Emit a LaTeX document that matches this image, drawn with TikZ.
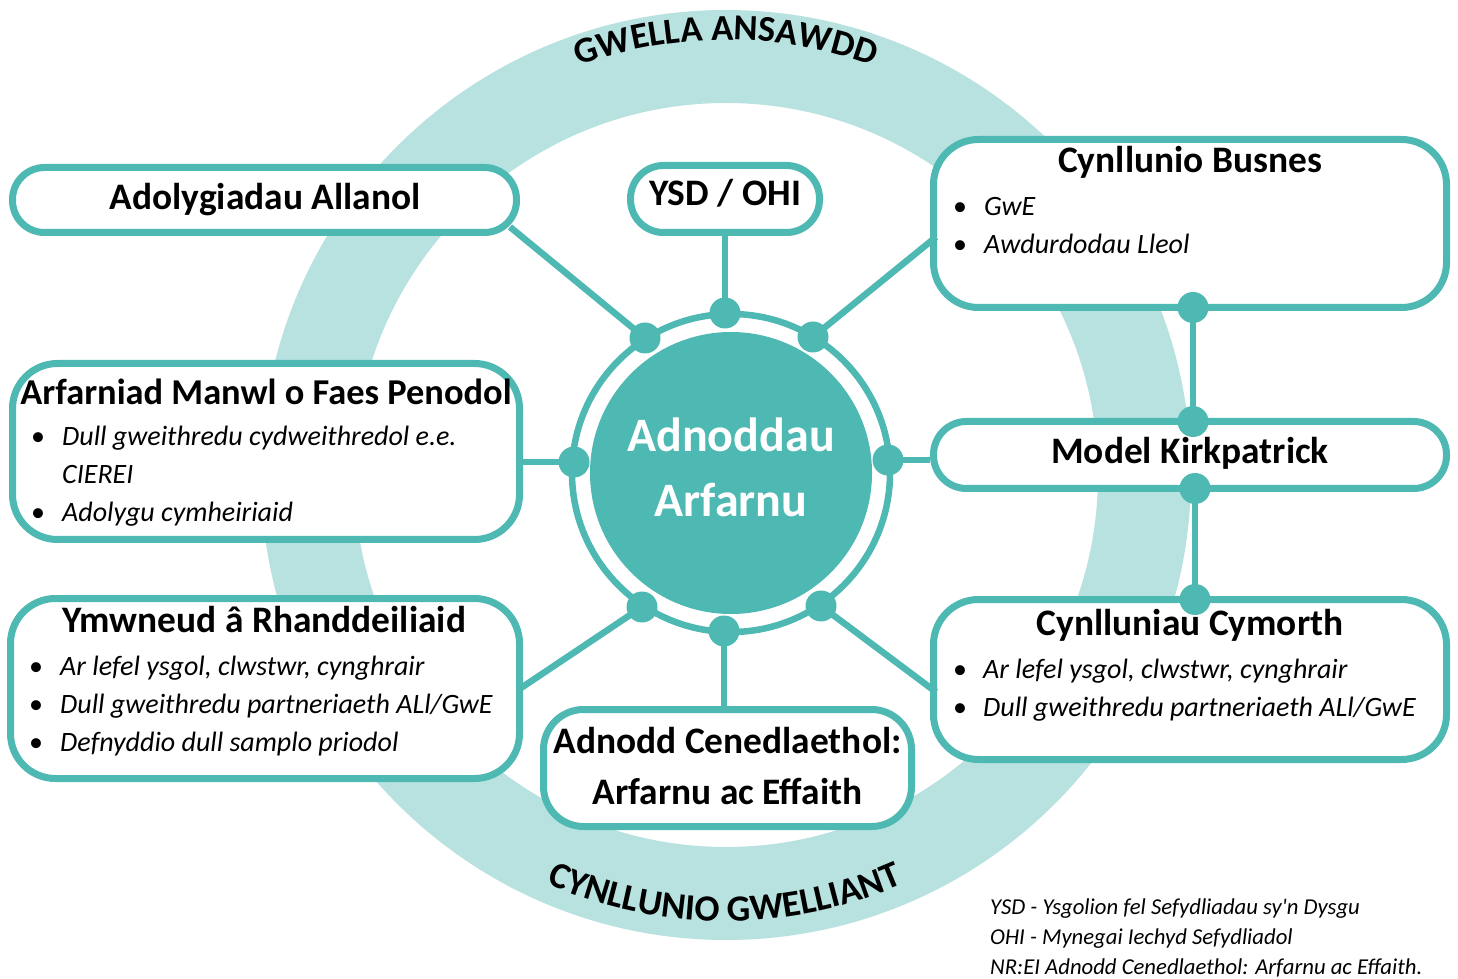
\documentclass[tikz,border=0pt]{standalone}
\usepackage{fontspec}
\setmainfont{Carlito}[Ligatures=TeXOff]
\usetikzlibrary{decorations.text}
\definecolor{tealmain}{RGB}{78,184,179}
\definecolor{tealring}{RGB}{183,226,224}
\begin{document}
\begin{tikzpicture}[x=1pt,y=1pt,
  box/.style={draw=tealmain, line width=7pt, fill=white, rounded corners=#1, inner sep=0pt},
  box/.default=45pt,
  conn/.style={draw=tealmain, line width=6.5pt},
  dotn/.style={circle, fill=tealmain, minimum size=31pt, inner sep=0pt},
  title/.style={font=\fontsize{37.4}{40}\selectfont\bfseries, anchor=base, inner sep=0pt},
  item/.style={font=\fontsize{28}{32}\selectfont\itshape, anchor=base west, inner sep=0pt},
  bul/.style={font=\fontsize{28}{32}\selectfont, anchor=base, inner sep=0pt},
  note/.style={font=\fontsize{22.7}{26}\selectfont\itshape, anchor=base west, inner sep=0pt},
  coretext/.style={font=\fontsize{48}{50}\selectfont\bfseries, text=white, anchor=base, inner sep=0pt},
]
\useasboundingbox (0,0) rectangle (1458,978);
\fill[white] (0,0) rectangle (1458,978);
% big light ring
\draw[tealring, line width=93pt] (726,503) circle[radius=418.5];
% curved texts
\path[decorate, decoration={text along path, text align=center,
  text={|\fontsize{36.5}{36}\selectfont\bfseries|GWELLA ANSAWDD}}]
  (726,503) ++(150:435) arc[start angle=150, end angle=30, radius=435];
\path[decorate, decoration={text along path, text align=center,
  text={|\fontsize{37}{36}\selectfont\bfseries|CYNLLUNIO GWELLIANT}}]
  (725,503) ++(205:446) arc[start angle=205, end angle=335, radius=446];

% core
\node[circle, fill=tealmain, minimum size=282pt, inner sep=0pt] (core) at (731,505) {};
\node[circle, draw=tealmain, line width=6.5pt, minimum size=318pt, inner sep=0pt] (coreRing) at (731,505) {};
\coordinate (dT) at (725,665);
\coordinate (dUL) at (645,640);
\coordinate (dUR) at (813,641);
\coordinate (dL) at (574,516);
\coordinate (dR) at (888,518);
\coordinate (dLL) at (642,371);
\coordinate (dLR) at (821,372);
\coordinate (dB) at (724,347);

% boxes
\node[box=32pt, minimum width=504pt, minimum height=65pt] (bAdol) at (264.5,778) {};
\node[box=33pt, minimum width=189pt, minimum height=67pt] (bYSD) at (725,779) {};
\node[box, minimum width=513pt, minimum height=168pt] (bBus) at (1190,754.5) {};
\node[box, minimum width=507pt, minimum height=176pt] (bArf) at (266,526.5) {};
\node[box=33pt, minimum width=513pt, minimum height=67pt] (bKirk) at (1190,523) {};
\node[box, minimum width=509pt, minimum height=180pt] (bYmw) at (265,289.5) {};
\node[box, minimum width=513pt, minimum height=160pt] (bCym) at (1190,298.5) {};
\node[box=40pt, minimum width=368pt, minimum height=117pt] (bAdn) at (727.5,210) {};

% connector end points on box borders
\coordinate (cAdol) at (510,751);
\coordinate (cBus) at (936,741);
\coordinate (cYmw) at (518,288);
\coordinate (cCym) at (936,286);

% connectors
\draw[conn] (dUL) -- (cAdol);
\draw[conn] (dT) -- (bYSD.south);
\draw[conn] (dUR) -- (cBus);
\draw[conn] (dL) -- (dL -| bArf.east);
\draw[conn] (dR) -- (dR -| bKirk.west);
\draw[conn] (dLL) -- (cYmw);
\draw[conn] (dLR) -- (cCym);
\draw[conn] (dB) -- (dB |- bAdn.north);

% right vertical chain
\coordinate (dBus) at (1193,670.5);
\coordinate (dK1) at (1193,556.5);
\coordinate (dK2) at (1195,489.5);
\coordinate (dCym) at (1195,378.5);
\draw[conn] (dBus) -- (dK1);
\draw[conn] (dK2) -- (dCym);

% dots
\foreach \p in {dT,dUL,dUR,dL,dR,dLL,dLR,dB,dBus,dK1,dK2,dCym}
  \node[dotn] (n\p) at (\p) {};

% core text
\node[coretext] (tCore1) at (731,526) {Adnoddau};
\node[coretext] (tCore2) at (731,461) {Arfarnu};

% titles
\node[title] (tAdol) at (265,768) {Adolygiadau Allanol};
\node[title] (tYSD) at (725,772) {YSD / OHI};
\node[title] (tBus) at (1190,805) {Cynllunio Busnes};
\node[title, font=\fontsize{36.4}{40}\selectfont\bfseries] (tArf) at (266,573) {Arfarniad Manwl o Faes Penodol};
\node[title] (tKirk) at (1190,514) {Model Kirkpatrick};
\node[title] (tYmw) at (264,346) {Ymwneud â Rhanddeiliaid};
\node[title] (tCym) at (1190,343) {Cynlluniau Cymorth};
\node[title] (tAdn1) at (727.5,225) {Adnodd Cenedlaethol:};
\node[title] (tAdn2) at (727.5,174) {Arfarnu ac Effaith};

% bullets: Cynllunio Busnes
\node[bul] (bu1) at (960,762) {•};
\node[item] (it1) at (984,762) {GwE};
\node[bul] (bu2) at (960,724) {•};
\node[item] (it2) at (984,724) {Awdurdodau Lleol};
% Arfarniad
\node[bul] (bu3) at (38,532) {•};
\node[item] (it3) at (62,532) {Dull gweithredu cydweithredol e.e.};
\node[item] (it3b) at (62,494) {CIEREI};
\node[bul] (bu4) at (38,456) {•};
\node[item] (it4) at (62,456) {Adolygu cymheiriaid};
% Ymwneud
\node[bul] (bu5) at (36,303) {•};
\node[item] (it5) at (60,303) {Ar lefel ysgol, clwstwr, cynghrair};
\node[bul] (bu6) at (36,265) {•};
\node[item] (it6) at (60,265) {Dull gweithredu partneriaeth ALl/GwE};
\node[bul] (bu7) at (36,227) {•};
\node[item] (it7) at (60,227) {Defnyddio dull samplo priodol};
% Cynlluniau Cymorth
\node[bul] (bu8) at (960,300) {•};
\node[item] (it8) at (983,300) {Ar lefel ysgol, clwstwr, cynghrair};
\node[bul] (bu9) at (960,262) {•};
\node[item] (it9) at (983,262) {Dull gweithredu partneriaeth ALl/GwE};

% notes
\node[note] (nt1) at (990,64) {YSD - Ysgolion fel Sefydliadau sy'n Dysgu};
\node[note] (nt2) at (990,34) {OHI - Mynegai Iechyd Sefydliadol};
\node[note] (nt3) at (990,4) {NR:EI Adnodd Cenedlaethol: Arfarnu ac Effaith.};
\end{tikzpicture}
\end{document}
